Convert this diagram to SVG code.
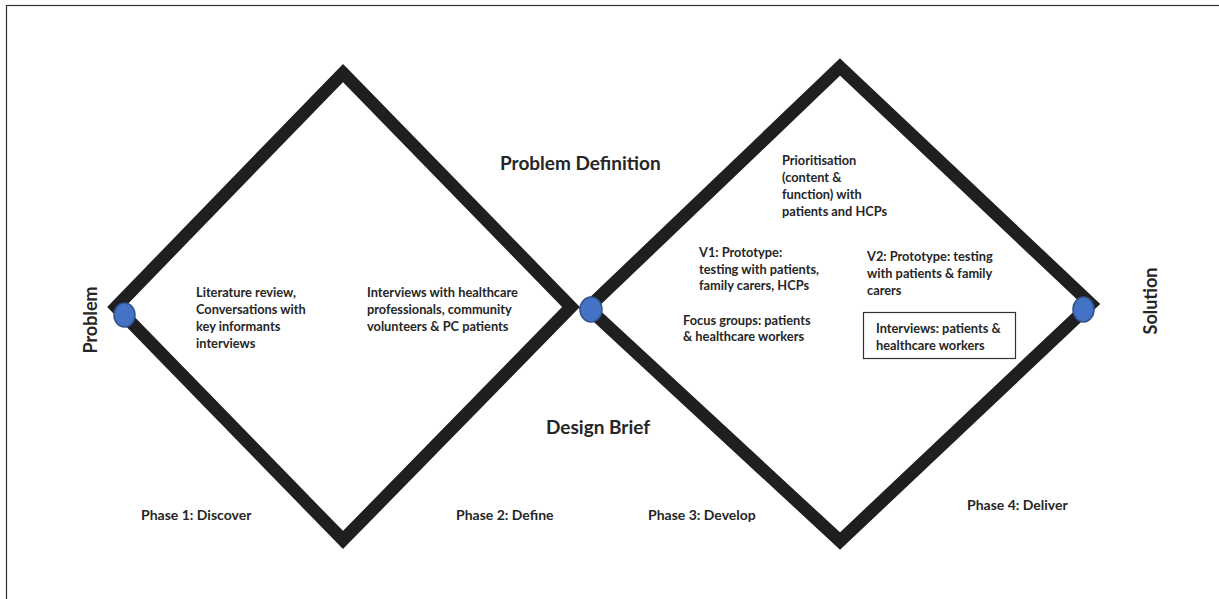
<svg xmlns="http://www.w3.org/2000/svg" width="1219" height="599" viewBox="0 0 1219 599">
<style>
.dia{fill:none;stroke:#1f1f20;stroke-width:12.7;stroke-linejoin:miter;stroke-miterlimit:10}
.dot{fill:#4472c4;stroke:#2f528f;stroke-width:1.5}
.t{font-family:Lato,"Liberation Sans",sans-serif;font-weight:bold;font-size:12.8px;fill:#262626}
.h{font-family:Lato,"Liberation Sans",sans-serif;font-weight:bold;font-size:19px;fill:#262626}
.v{font-family:Lato,"Liberation Sans",sans-serif;font-weight:bold;font-size:18px;fill:#262626}
.p{font-family:Lato,"Liberation Sans",sans-serif;font-weight:bold;font-size:14px;fill:#262626}
</style>
<rect x="0" y="0" width="1219" height="599" fill="#ffffff"/>
<rect x="6.5" y="5.5" width="1230" height="620" fill="none" stroke="#333" stroke-width="1.2"/>
<g id="connectors">
<polygon class="dia" points="343,73 571,307 343,540 116,307"/>
<polygon class="dia" points="840,67 1091,304 840,541 588,308"/>
</g>
<g id="dot-problem"><ellipse class="dot" cx="124.5" cy="315" rx="10.5" ry="12"/></g>
<g id="dot-brief"><ellipse class="dot" cx="591" cy="309.5" rx="11" ry="12.5"/></g>
<g id="dot-solution"><ellipse class="dot" cx="1083.5" cy="309.5" rx="10.5" ry="12.5"/></g>
<g id="label-problem"><text class="v" transform="translate(97,320) rotate(-90)" text-anchor="middle">Problem</text></g>
<g id="label-solution"><text class="v" transform="translate(1157,301) rotate(-90)" text-anchor="middle">Solution</text></g>
<g id="label-problem-definition"><text class="h" x="500" y="170">Problem Definition</text></g>
<g id="label-design-brief"><text class="h" x="546" y="434">Design Brief</text></g>
<g id="discover-text"><text class="t" x="196" y="297">Literature review,</text><text class="t" x="196" y="314">Conversations with</text><text class="t" x="196" y="331">key informants</text><text class="t" x="196" y="348">interviews</text></g>
<g id="define-text"><text class="t" x="367" y="297">Interviews with healthcare</text><text class="t" x="367" y="314">professionals, community</text><text class="t" x="367" y="331">volunteers &amp; PC patients</text></g>
<g id="prioritisation"><text class="t" x="782" y="165">Prioritisation</text><text class="t" x="782" y="182">(content &amp;</text><text class="t" x="782" y="199">function) with</text><text class="t" x="782" y="216">patients and HCPs</text></g>
<g id="v1"><text class="t" x="699" y="257">V1: Prototype:</text><text class="t" x="699" y="274">testing with patients,</text><text class="t" x="699" y="290">family carers, HCPs</text></g>
<g id="v2"><text class="t" x="867" y="261">V2: Prototype: testing</text><text class="t" x="867" y="278">with patients &amp; family</text><text class="t" x="867" y="295">carers</text></g>
<g id="focus"><text class="t" x="683" y="325">Focus groups: patients</text><text class="t" x="683" y="341">&amp; healthcare workers</text></g>
<g id="interviews-box"><rect x="863.5" y="312.5" width="152" height="46" fill="#fff" stroke="#333" stroke-width="1.2"/><text class="t" x="876" y="333">Interviews: patients &amp;</text><text class="t" x="876" y="350">healthcare workers</text></g>
<g id="phase1"><text class="p" x="141" y="520">Phase 1: Discover</text></g>
<g id="phase2"><text class="p" x="456" y="520">Phase 2: Define</text></g>
<g id="phase3"><text class="p" x="648" y="520">Phase 3: Develop</text></g>
<g id="phase4"><text class="p" x="967" y="510">Phase 4: Deliver</text></g>
</svg>
